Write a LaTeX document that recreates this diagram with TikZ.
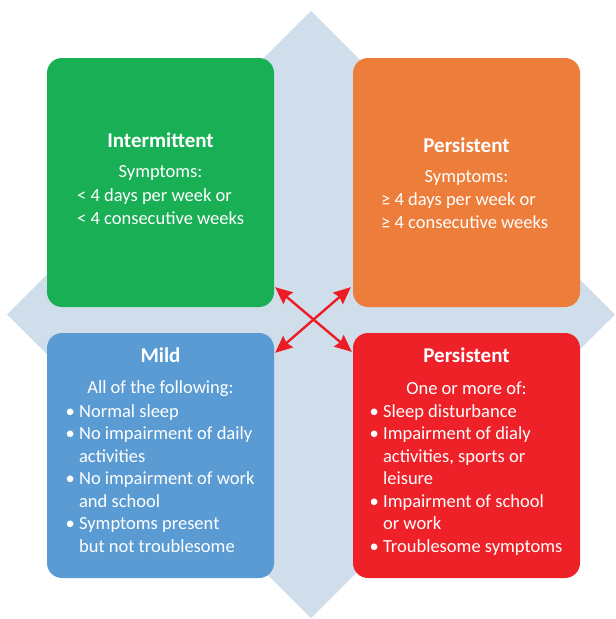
\documentclass[tikz,border=0pt]{standalone}
\usepackage{fontspec}
\setmainfont{Carlito}
\usepackage{xcolor}
\usepackage{tikz}
\usetikzlibrary{arrows.meta}
\definecolor{bg}{HTML}{D0DDEA}
\definecolor{intgreen}{HTML}{19AF54}
\definecolor{perorange}{HTML}{ED7D3B}
\definecolor{mildblue}{HTML}{5B9BD3}
\definecolor{sevred}{HTML}{EE2128}
\definecolor{arrred}{HTML}{ED1C24}
\tikzset{
  box/.style={rectangle, rounded corners=15pt, inner sep=0pt, minimum width=227pt},
  head/.style={text=white, inner sep=0pt, anchor=base, font=\bfseries\fontsize{21}{24}\selectfont},
  body/.style={text=white, inner sep=0pt, anchor=base, align=center, font=\fontsize{18.5}{22.5}\selectfont},
  list/.style={body, anchor=base west, align=left},
  arr/.style={draw=arrred, line width=2.4pt,
    {Stealth[length=17pt,width=15pt,inset=2pt]}-{Stealth[length=17pt,width=15pt,inset=2pt]}},
}
\newcommand\ind{\hphantom{•~}}

\begin{document}
\begin{tikzpicture}[x=1pt,y=-1pt]
  \useasboundingbox (0,0) rectangle (616,619);
  % background diamond
  \fill[bg] (311,11) -- (615,314.5) -- (311,618) -- (7,314.5) -- cycle;
  % the four boxes
  \foreach \N/\X/\Y/\H/\C in {int/160.5/182.5/249/intgreen,per/466.5/182.5/249/perorange,
      mild/160.5/455.5/245/mildblue,sev/466.5/455.5/245/sevred}
    \node[box, fill=\C, minimum height=\H pt] (\N) at (\X,\Y) {};
  % texts (multi-line nodes sit on their last baseline)
  \node[head] (int-head) at (160.5,147) {Intermittent};
  \node[body] (int-sym) at (160.5,177) {Symptoms:};
  \node[body, anchor=base west, align=left] (int-txt) at (77,224)
    {< 4 days per week or\\< 4 consecutive weeks};
  \node[head] (per-head) at (466.5,152) {Persistent};
  \node[body] (per-sym) at (466.5,182) {Symptoms:};
  \node[body, anchor=base west, align=left] (per-txt) at (381,228)
    {≥ 4 days per week or\\≥ 4 consecutive weeks};
  \node[head] (mild-head) at (160.5,362) {Mild};
  \node[body] (mild-sub) at (160.5,393) {All of the following:};
  \node[list] (mild-txt) at (65.5,552)
    {• Normal sleep\\• No impairment of daily\\\ind activities\\
     • No impairment of work\\\ind and school\\• Symptoms present\\\ind but not troublesome};
  \node[head] (sev-head) at (466.5,362) {Persistent};
  \node[body] (sev-sub) at (466.5,394) {One or more of:};
  \node[list] (sev-txt) at (369.5,552)
    {• Sleep disturbance\\• Impairment of dialy\\\ind activities, sports or\\\ind leisure\\
     • Impairment of school\\\ind or work\\• Troublesome symptoms};
  % arrows
  \coordinate (int-tip) at ([xshift=1pt,yshift=20pt]int.south east);
  \coordinate (per-tip) at ([xshift=-2pt,yshift=20pt]per.south west);
  \coordinate (mild-tip) at ([xshift=1pt,yshift=-20pt]mild.north east);
  \coordinate (sev-tip) at ([xshift=-1pt,yshift=-19pt]sev.north west);
  \draw[arr] (int-tip) -- (sev-tip);
  \draw[arr] (per-tip) -- (mild-tip);
\end{tikzpicture}
\end{document}
